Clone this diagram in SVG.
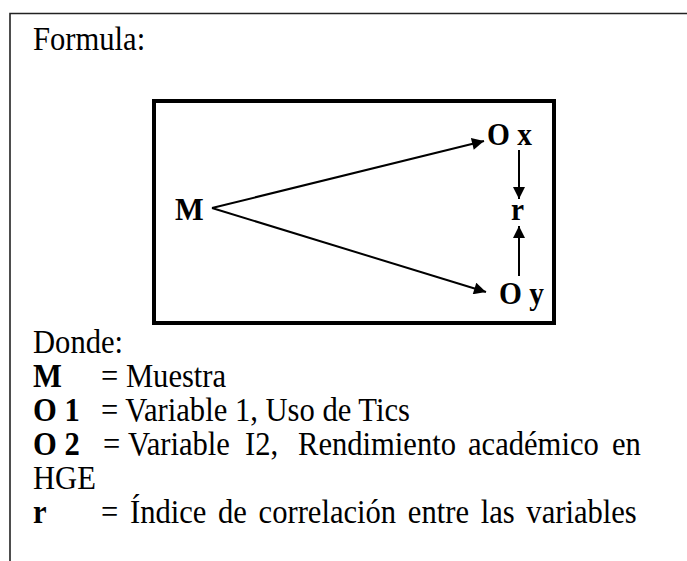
<svg xmlns="http://www.w3.org/2000/svg" width="687" height="561" viewBox="0 0 687 561">
<style>
.t{font-family:"Liberation Serif","Times New Roman",serif;font-size:34px;fill:#000}
.b{font-weight:bold}
.d{font-family:"Liberation Serif","Times New Roman",serif;font-size:32px;font-weight:bold;fill:#000}
.ln{stroke:#000;stroke-width:2;fill:none}
</style>
<defs>
<marker id="ah" viewBox="0 0 10 10" refX="10" refY="5" markerWidth="17" markerHeight="12" markerUnits="userSpaceOnUse" orient="auto">
<path d="M0,0 L10,5 L0,10 z" fill="#000"/>
</marker>
</defs>
<rect width="687" height="561" fill="#fff"/>
<g id="frame">
<path d="M10,561 V13.5 H687" fill="none" stroke="#222" stroke-width="1.6"/>
</g>
<text class="t" transform="translate(33,50) scale(0.9,1)">Formula:</text>
<g id="box">
<rect x="154" y="101" width="400" height="222" fill="none" stroke="#000" stroke-width="4"/>
</g>
<g id="node-M"><text class="d" transform="translate(175,220) scale(0.95,1)">M</text></g>
<g id="node-Ox"><text class="d" transform="translate(487,145) scale(0.92,1)">O x</text></g>
<g id="node-r"><text class="d" transform="translate(511,220) scale(0.92,1)">r</text></g>
<g id="node-Oy"><text class="d" transform="translate(499,304) scale(0.92,1)">O y</text></g>
<g id="connectors">
<line class="ln" x1="212" y1="208" x2="484" y2="141" marker-end="url(#ah)"/>
<line class="ln" x1="212" y1="208" x2="486" y2="292" marker-end="url(#ah)"/>
<line class="ln" x1="519" y1="150" x2="519" y2="199" marker-end="url(#ah)"/>
<line class="ln" x1="519" y1="276" x2="519" y2="226" marker-end="url(#ah)"/>
</g>
<text class="t" transform="translate(33,353) scale(0.9,1)">Donde:</text>
<text class="t b" transform="translate(33,387) scale(0.9,1)">M</text>
<text class="t" transform="translate(101,387) scale(0.9,1)">= Muestra</text>
<text class="t b" transform="translate(33,421) scale(0.9,1)">O 1</text>
<text class="t" transform="translate(101,421) scale(0.9,1)">= Variable 1, Uso de Tics</text>
<text class="t b" transform="translate(33,455) scale(0.9,1)">O 2</text>
<text class="t" transform="translate(103,455) scale(0.9,1)">=</text>
<text class="t" transform="translate(128,455) scale(0.9,1)">Variable</text>
<text class="t" transform="translate(245,455) scale(0.9,1)">I2,</text>
<text class="t" transform="translate(298,455) scale(0.9,1)">Rendimiento</text>
<text class="t" transform="translate(468,455) scale(0.9,1)">académico</text>
<text class="t" transform="translate(612,455) scale(0.9,1)">en</text>
<text class="t" transform="translate(33,489) scale(0.9,1)">HGE</text>
<text class="t b" transform="translate(33,523) scale(0.9,1)">r</text>
<text class="t" transform="translate(101,523) scale(0.9,1)" style="word-spacing:4.5px">= Índice de correlación entre las variables</text>
</svg>
